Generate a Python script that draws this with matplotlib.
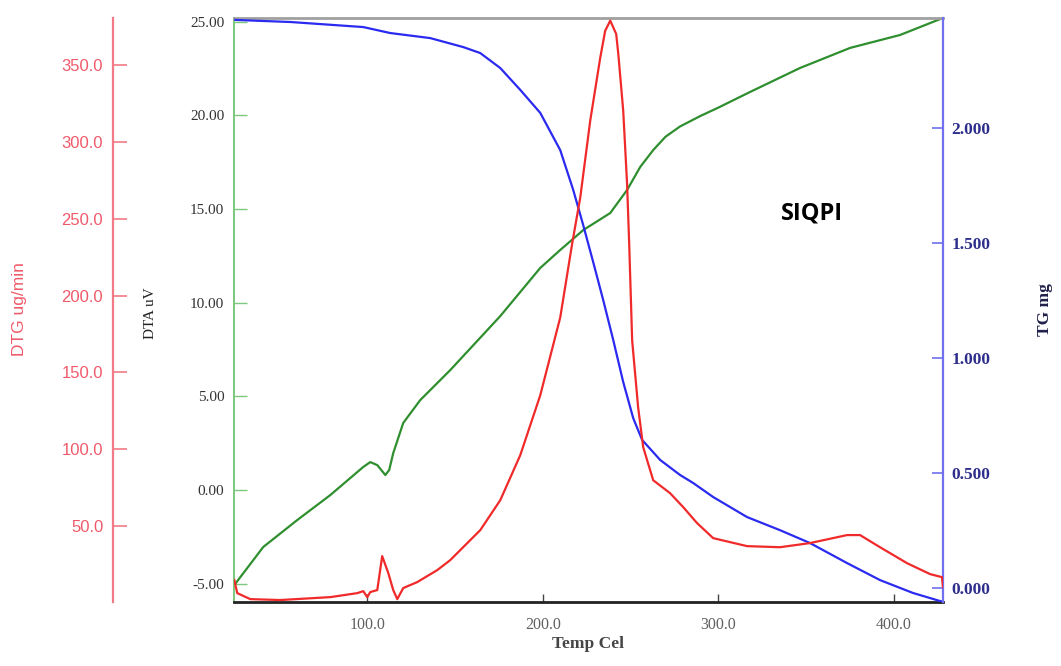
import matplotlib
matplotlib.use("Agg")
import matplotlib.pyplot as plt
from matplotlib.ticker import FixedLocator, FormatStrFormatter

# Thermal analysis of SIQPI: DTA, TG and DTG against temperature
temp_dta = [24.2, 40.7, 60.1, 78.9, 97.7, 101.7, 105.7, 110.3, 112.5, 114.8, 120.5,
            130.2, 147.3, 175.8, 198.6, 210.0, 223.1, 238.5, 248.1, 255.6, 263.0,
            270.0, 278.3, 289.7, 300.0, 318.2, 346.7, 375.2, 403.7, 428.2]
dta_uv = [-5.07, -3.04, -1.60, -0.27, 1.23, 1.49, 1.33, 0.80, 1.07, 1.97, 3.58,
          4.80, 6.40, 9.28, 11.85, 12.81, 13.87, 14.78, 16.01, 17.24, 18.14,
          18.85, 19.40, 19.95, 20.40, 21.24, 22.52, 23.59, 24.28, 25.19]

temp_tg = [24.8, 56.1, 97.7, 113.1, 135.9, 154.7, 164.4, 175.8, 187.2, 198.6,
           210.0, 217.4, 223.1, 228.8, 234.5, 240.2, 245.9, 251.6, 256.7,
           267.0, 278.3, 285.8, 297.2, 316.5, 335.3, 352.4, 373.5, 392.3, 411.1,
           426.5, 428.2]
tg_mg = [2.471, 2.462, 2.440, 2.414, 2.392, 2.353, 2.327, 2.262, 2.167, 2.067,
         1.905, 1.732, 1.579, 1.418, 1.253, 1.080, 0.897, 0.740, 0.645,
         0.558, 0.493, 0.458, 0.397, 0.310, 0.253, 0.197, 0.110, 0.036, -0.020,
         -0.055, -0.058]

temp_dtg = [24.2, 25.9, 33.3, 50.4, 78.9, 94.3, 97.7, 100.0, 101.7, 105.7, 108.5,
            112.0, 114.8, 117.1, 120.5, 128.5, 139.9, 147.3, 164.4, 175.8, 187.2,
            198.6, 210.0, 216.8, 221.4, 227.1, 232.8, 235.6, 238.5, 241.9, 243.1,
            245.9, 248.1, 249.3, 251.0, 254.4, 257.3, 263.0, 272.6, 280.1, 288.0,
            297.2, 316.5, 335.3, 352.4, 373.5, 380.9, 392.3, 407.7, 420.8, 427.6,
            428.2]
dtg_ugmin = [14.7, 6.2, 2.3, 1.7, 3.6, 6.2, 7.5, 3.6, 6.9, 8.2, 30.3,
             19.2, 8.2, 2.3, 9.5, 13.4, 21.2, 27.7, 47.2, 66.7, 96.0,
             135.0, 185.7, 233.8, 263.7, 313.9, 354.8, 372.3, 379.0, 370.3, 357.3,
             320.3, 272.8, 233.8, 170.7, 127.2, 101.2, 79.7, 71.3, 62.2, 51.8,
             42.0, 36.8, 36.1, 38.8, 44.0, 44.0, 36.1, 25.7, 18.6, 16.6,
             10.1]

temp_ticks = [100, 200, 300, 400]
dta_ticks = [-5, 0, 5, 10, 15, 20, 25]
tg_ticks = [0.0, 0.5, 1.0, 1.5, 2.0]
dtg_ticks = [50, 100, 150, 200, 250, 300, 350]

SERIF = "Liberation Serif"
SANS = "Liberation Sans"

c_dta, c_dta_axis = "#2f8f2f", "#7cc87c"
c_tg, c_tg_axis, c_tg_text = "#2a2af0", "#7070f0", "#2e2e8c"
c_dtg, c_dtg_axis, c_dtg_text = "#f02a2a", "#f27a86", "#ef5a6a"

fig = plt.figure(figsize=(10.61, 6.66), dpi=100)
ax = fig.add_axes([0.2205, 0.0965, 0.6683, 0.876])
ax_tg = ax.twinx()
ax_dtg = ax.twinx()

# --- DTA (main axes) ---
ax.plot(temp_dta, dta_uv, color=c_dta, lw=1.6)
ax.set_xlim(24, 428.2)
ax.set_ylim(-5.96, 25.17)
ax.yaxis.set_major_locator(FixedLocator(dta_ticks))
ax.yaxis.set_major_formatter(FormatStrFormatter("%.2f"))
ax.xaxis.set_major_locator(FixedLocator(temp_ticks))
ax.xaxis.set_major_formatter(FormatStrFormatter("%.1f"))
ax.tick_params(axis="y", direction="in", length=9, width=1, color=c_dta_axis,
               pad=7, labelsize=11, labelcolor="#333333")
ax.tick_params(axis="x", direction="in", length=6, width=1, color="#444444",
               pad=11, labelsize=11.5, labelcolor="#606060")
for lab in ax.get_xticklabels() + ax.get_yticklabels():
    lab.set_family(SERIF)
ax.spines["left"].set_color(c_dta_axis)
ax.spines["left"].set_linewidth(1.4)
ax.spines["top"].set_color("#a0a0a0")
ax.spines["top"].set_linewidth(2)
ax.spines["bottom"].set_color("#222222")
ax.spines["bottom"].set_linewidth(2)
ax.spines["right"].set_visible(False)
ax.set_xlabel("Temp Cel", family=SERIF, fontsize=12.5, color="#444444",
              fontweight="bold", labelpad=2)

# --- TG (right axis) ---
ax_tg.plot(temp_tg, tg_mg, color=c_tg, lw=1.6)
ax_tg.set_ylim(-0.058, 2.478)
ax_tg.yaxis.set_major_locator(FixedLocator(tg_ticks))
ax_tg.yaxis.set_major_formatter(FormatStrFormatter("%.3f"))
ax_tg.tick_params(axis="y", direction="in", length=8, width=1.2, color=c_tg_axis,
                  pad=6, labelsize=12.5, labelcolor=c_tg_text)
for lab in ax_tg.get_yticklabels():
    lab.set_family(SERIF)
    lab.set_fontweight("bold")
for s in ("left", "top", "bottom"):
    ax_tg.spines[s].set_visible(False)
ax_tg.spines["right"].set_color(c_tg_axis)
ax_tg.spines["right"].set_linewidth(1.6)

# --- DTG (detached left axis) ---
ax_dtg.plot(temp_dtg, dtg_ugmin, color=c_dtg, lw=1.6)
ax_dtg.set_ylim(0.6, 380.5)
ax_dtg.spines["left"].set_position(("axes", -0.1707))
ax_dtg.yaxis.set_ticks_position("left")
ax_dtg.yaxis.set_major_locator(FixedLocator(dtg_ticks))
ax_dtg.yaxis.set_major_formatter(FormatStrFormatter("%.1f"))
ax_dtg.tick_params(axis="y", direction="in", length=10, width=1.2, color=c_dtg_axis,
                   pad=7, labelsize=12, labelcolor=c_dtg_text)
for lab in ax_dtg.get_yticklabels():
    lab.set_family(SANS)
for s in ("right", "top", "bottom"):
    ax_dtg.spines[s].set_visible(False)
ax_dtg.spines["left"].set_visible(True)
ax_dtg.spines["left"].set_color(c_dtg_axis)
ax_dtg.spines["left"].set_linewidth(1.6)

# --- axis titles and sample name ---
fig.text(20 / 1061, 1 - 309 / 666, "DTG ug/min", rotation=90, ha="center", va="center",
         family=SANS, fontsize=12.5, color=c_dtg_text)
fig.text(150 / 1061, 1 - 313 / 666, "DTA uV", rotation=90, ha="center", va="center",
         family=SERIF, fontsize=11, color="#222222")
fig.text(1045 / 1061, 1 - 310 / 666, "TG mg", rotation=90, ha="center", va="center",
         family=SERIF, fontsize=12.5, fontweight="bold", color="#20204a")
fig.text(812 / 1061, 1 - 213 / 666, "SIQPI", ha="center", va="center",
         family="Open Sans", fontsize=17, fontweight="bold", color="black")

fig.savefig("out.png", dpi=100)
